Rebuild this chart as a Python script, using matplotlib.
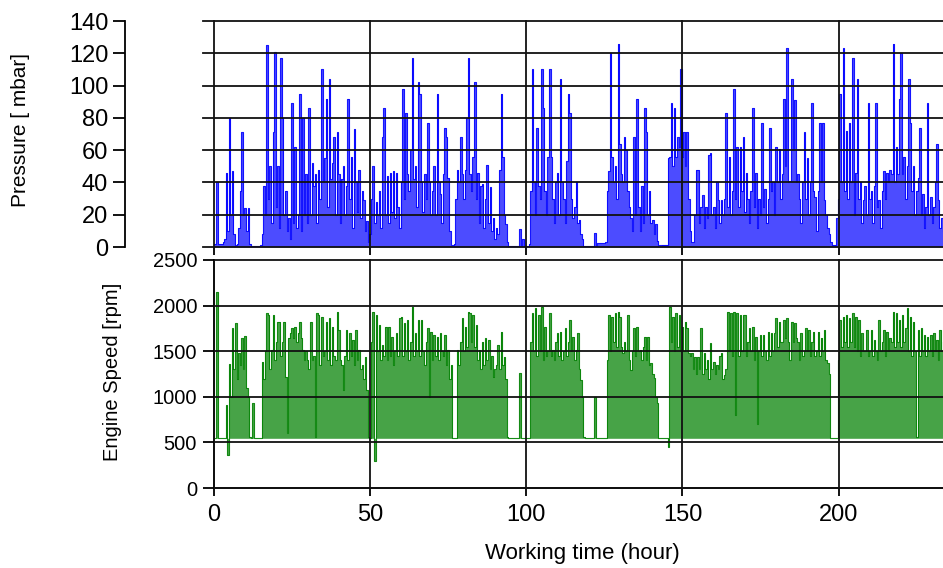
import numpy as np
import matplotlib.pyplot as plt
from matplotlib import transforms

plt.rcParams['font.family'] = ['Liberation Sans', 'DejaVu Sans']

# one reading every half hour
STEP_HOURS = 0.5

pressure_mbar = [
    2, 2, 40, 2, 2, 2, 3, 5, 46, 10, 80, 20, 47, 8, 1, 2, 12, 35, 71, 20,
    24, 10, 24, 2, 0.5, 0.5, 0.5, 0.5, 0.5, 0.5, 1, 8, 38, 20, 125, 30, 50, 15, 71, 121,
    25, 50, 12, 117, 80, 20, 35, 10, 18, 5, 89, 15, 62, 12, 20, 95, 10, 80, 20, 45,
    15, 86, 20, 52, 38, 45, 15, 48, 30, 110, 40, 55, 92, 25, 104, 42, 52, 68, 20, 71,
    45, 15, 42, 50, 20, 38, 92, 30, 56, 12, 73, 40, 22, 48, 18, 35, 29, 10, 16, 3,
    8, 30, 50, 15, 28, 20, 35, 12, 68, 86, 20, 44, 15, 46, 22, 47, 18, 46, 25, 12,
    40, 98, 30, 83, 45, 35, 60, 117, 42, 50, 25, 102, 95, 40, 22, 45, 30, 77, 40, 20,
    35, 50, 20, 95, 40, 33, 15, 45, 74, 68, 43, 10, 1, 1, 2, 30, 48, 40, 68, 45,
    30, 48, 80, 117, 45, 35, 56, 102, 30, 46, 15, 38, 39, 12, 30, 51, 15, 37, 10, 18,
    5, 12, 8, 48, 95, 56, 20, 14, 3, 0.5, 0.5, 0.5, 0.5, 0.5, 0.5, 0.5, 11, 0.5, 5, 0.5,
    0.5, 0.5, 2, 35, 110, 40, 20, 74, 38, 30, 110, 86, 35, 20, 56, 110, 56, 30, 15, 40,
    46, 20, 104, 40, 30, 15, 53, 95, 83, 30, 18, 25, 40, 15, 17, 8, 5, 0.5, 0.5, 0.5,
    0.5, 0.5, 0.5, 0.5, 8.5, 0.5, 2.5, 2.5, 2.5, 2.5, 2.5, 3, 35, 47, 120, 56, 40, 50, 30, 126,
    64, 45, 40, 68, 60, 35, 25, 18, 10, 68, 20, 92, 25, 10, 38, 15, 86, 71, 20, 35,
    15, 17, 8, 14, 4, 1, 1, 1.5, 1.5, 1.5, 1.5, 55, 56, 89, 50, 86, 56, 68, 62, 110,
    56, 71, 50, 71, 30, 10, 3, 3, 20, 48, 48, 15, 25, 32, 12, 25, 18, 57, 58, 20,
    25, 12, 40, 29, 15, 29, 20, 30, 83, 25, 56, 20, 35, 98, 30, 62, 25, 62, 35, 68,
    22, 46, 30, 15, 35, 86, 25, 46, 12, 30, 20, 77, 25, 36, 15, 30, 74, 35, 40, 20,
    62, 40, 61, 30, 45, 92, 50, 123, 40, 41, 104, 60, 91, 40, 45, 30, 15, 40, 71, 30,
    55, 20, 40, 89, 35, 31, 10, 35, 77, 40, 77, 29, 20, 12, 8, 3, 1.5, 1.5, 1.5, 18,
    30, 95, 40, 123, 35, 72, 30, 77, 40, 117, 20, 46, 104, 30, 40, 15, 29, 38, 20, 89,
    30, 35, 15, 38, 89, 25, 29, 12, 35, 47, 30, 46, 40, 48, 45, 126, 40, 62, 45, 92,
    120, 45, 56, 30, 50, 104, 77, 35, 50, 20, 35, 43, 74, 20, 33, 12, 25, 89, 20, 31,
    15, 25, 40, 64, 29, 12, 18, 10,
]

engine_speed_rpm = [
    545, 545, 2150, 545, 545, 545, 545, 545, 910, 362, 1360, 1000, 1750, 1300, 1805, 1200, 1477, 1350, 1640, 1300,
    1666, 1100, 1000, 560, 545, 928, 545, 545, 545, 545, 545, 1385, 1200, 1500, 1915, 1897, 1300, 1513, 1897, 1400,
    1600, 1824, 1824, 1450, 1600, 1824, 1221, 600, 1650, 1700, 1751, 1650, 1769, 1600, 1700, 1824, 1650, 1513, 1400, 1500,
    1404, 1300, 1824, 1400, 1450, 560, 1915, 1897, 1350, 1879, 1450, 1500, 1824, 1400, 1860, 1350, 1769, 1450, 1400, 1933,
    1733, 1400, 1350, 1075, 1450, 1733, 1400, 1696, 1450, 1623, 1350, 1733, 1400, 1513, 1300, 1350, 1200, 1440, 1075, 560,
    545, 1600, 1933, 300, 1897, 1500, 1787, 1400, 1568, 1450, 1769, 1400, 1769, 1450, 1659, 1350, 1500, 1696, 1450, 1860,
    1879, 1450, 1806, 1500, 1842, 1400, 1600, 1989, 1450, 1696, 1500, 1842, 1450, 1842, 1500, 1350, 1600, 1751, 1000, 1715,
    1400, 1678, 1450, 1659, 1400, 1696, 1500, 1450, 1678, 1350, 1513, 1200, 1350, 545, 545, 545, 1513, 1350, 1600, 1860,
    1500, 1769, 1550, 1933, 1915, 1600, 1897, 1550, 1787, 1400, 1513, 1300, 1605, 1350, 1640, 1400, 1623, 1300, 1450, 1221,
    1300, 1350, 1568, 1300, 1715, 1350, 1440, 1200, 560, 545, 545, 545, 545, 545, 545, 545, 1258, 545, 545, 545,
    545, 545, 545, 1600, 1915, 1500, 1970, 1450, 1897, 1500, 1989, 1400, 1769, 1450, 1500, 1915, 1450, 1513, 1400, 1600,
    1696, 1450, 1715, 1400, 1500, 1751, 1450, 1600, 1842, 1500, 1659, 1400, 1513, 1696, 1300, 1184, 1000, 560, 545, 545,
    545, 545, 545, 545, 1002, 545, 545, 545, 545, 545, 545, 545, 1400, 1897, 1500, 1879, 1600, 1915, 1550, 1933,
    1879, 1550, 1477, 1600, 1500, 1897, 1400, 1294, 1500, 1751, 1450, 1769, 1500, 1513, 1400, 1550, 1659, 1400, 1659, 1350,
    1367, 1250, 1203, 1000, 929, 545, 545, 545, 545, 545, 545, 453, 1989, 1600, 1879, 1500, 1915, 1550, 1897, 1500,
    1769, 1500, 1824, 1751, 1477, 1450, 1477, 1300, 1440, 1250, 1440, 1300, 1751, 1250, 1477, 1300, 1404, 1200, 1586, 1300,
    1385, 1250, 1350, 1300, 1450, 1477, 1200, 1239, 1300, 1933, 1500, 1915, 1450, 1933, 800, 1915, 1450, 1897, 1500, 1897,
    1897, 1450, 1600, 1751, 1500, 1769, 1400, 1659, 700, 1500, 1678, 1450, 1678, 1500, 1400, 1715, 1450, 1696, 1500, 1696,
    1860, 1550, 1824, 1600, 1600, 1842, 1650, 1860, 1600, 1400, 1824, 1600, 1806, 1650, 1600, 1400, 1696, 1450, 1500, 1751,
    1500, 1733, 1450, 1600, 1715, 1450, 1500, 1715, 1450, 1650, 1500, 1733, 1400, 1367, 1250, 545, 545, 545, 545, 545,
    1400, 1842, 1550, 1879, 1600, 1897, 1550, 1860, 1600, 1915, 1550, 1879, 1500, 1842, 1450, 1696, 1500, 1500, 1733, 1450,
    1500, 1733, 1450, 1623, 1500, 1400, 1842, 1500, 1600, 1733, 1450, 1715, 1500, 1650, 1600, 1933, 1550, 1915, 1600, 1842,
    1550, 1897, 1600, 1750, 1970, 1500, 1879, 1450, 1824, 1500, 560, 1733, 1450, 1751, 1500, 1678, 1450, 1659, 1500, 1678,
    1450, 1696, 1500, 1623, 1400, 1733, 1500, 1600,
]

IDLE_RPM = 545  # engine idles here, the green area starts from it

x_ticks = [0, 50, 100, 150, 200]
pressure_ticks = [0, 20, 40, 60, 80, 100, 120, 140]
speed_ticks = [0, 500, 1000, 1500, 2000, 2500]
X_MAX = 233.4

GRID = '#111111'
GRID_LW = 1.3

p_hours = np.arange(len(pressure_mbar)) * STEP_HOURS
s_hours = np.arange(len(engine_speed_rpm)) * STEP_HOURS

fig = plt.figure(figsize=(9.43, 5.68), dpi=100)
ax_p = fig.add_axes([0.2269, 0.5651, 0.7731, 0.3979])
ax_s = fig.add_axes([0.2269, 0.1408, 0.7731, 0.4015])

# --- pressure panel ---
ax_p.fill_between(p_hours, 0, pressure_mbar, step='mid', color='#0000ff', alpha=0.7, lw=0, zorder=1)
ax_p.plot(p_hours, pressure_mbar, drawstyle='steps-mid', color='#0000ff', lw=0.8, alpha=0.9, zorder=2)
ax_p.set_xlim(0, X_MAX)
ax_p.set_ylim(0, 140)
ax_p.set_xticks(x_ticks)
ax_p.set_yticks(pressure_ticks)
for side in ['top', 'right', 'bottom']:
    ax_p.spines[side].set_visible(False)
ax_p.spines['left'].set_position(('outward', 64))
ax_p.spines['left'].set_linewidth(GRID_LW)
ax_p.tick_params(axis='y', direction='out', length=8.6, width=GRID_LW, pad=3.6, labelsize=17)
ax_p.tick_params(axis='x', direction='out', length=5.8, width=GRID_LW, labelbottom=False)
ax_p.grid(axis='x', color=GRID, lw=GRID_LW, zorder=3)
ax_p.set_axisbelow(False)
# horizontal grid reaches a little left of the plot area
trans = transforms.blended_transform_factory(ax_p.transAxes, ax_p.transData)
for t in pressure_ticks:
    ax_p.plot([-11 / 729, 1], [t, t], transform=trans, color=GRID, lw=GRID_LW, clip_on=False, zorder=3)
ax_p.set_ylim(0, 140)
ax_p.set_ylabel('Pressure [ mbar]', fontsize=15)
ax_p.yaxis.set_label_coords(-0.252, 0.518)

# --- engine speed panel ---
ax_s.fill_between(s_hours, IDLE_RPM, engine_speed_rpm, step='mid', color='#008000', alpha=0.72, lw=0, zorder=1)
ax_s.plot(s_hours, engine_speed_rpm, drawstyle='steps-mid', color='#008000', lw=0.8, alpha=0.9, zorder=2)
ax_s.set_xlim(0, X_MAX)
ax_s.set_ylim(0, 2500)
ax_s.set_xticks(x_ticks)
ax_s.set_yticks(speed_ticks)
for side in ['top', 'right']:
    ax_s.spines[side].set_visible(False)
for side in ['left', 'bottom']:
    ax_s.spines[side].set_linewidth(GRID_LW)
ax_s.tick_params(axis='y', direction='out', length=7.9, width=GRID_LW, pad=4.3, labelsize=14.5)
ax_s.tick_params(axis='x', direction='out', length=5.8, width=GRID_LW, pad=5.4, labelsize=17)
ax_s.grid(True, color=GRID, lw=GRID_LW)
ax_s.set_axisbelow(False)
ax_s.set_ylabel('Engine Speed [rpm]', fontsize=14.5)
ax_s.yaxis.set_label_coords(-0.126, 0.509)
ax_s.set_xlabel('Working time (hour)', fontsize=16)
ax_s.xaxis.set_label_coords(0.5055, -0.241)

for ax in (ax_p, ax_s):
    for line in ax.get_xgridlines() + ax.get_ygridlines():
        line.set_clip_on(False)

fig.savefig('out.png', dpi=100)
